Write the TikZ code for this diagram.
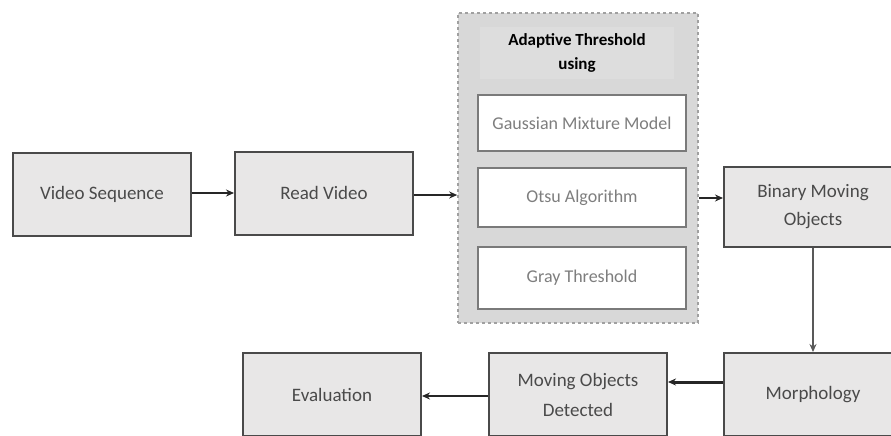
\documentclass[tikz,border=0pt]{standalone}
\usepackage{fontspec}
\setmainfont{Carlito}
\usetikzlibrary{arrows.meta}
\definecolor{boxfill}{HTML}{E8E7E7}
\definecolor{boxline}{HTML}{4A4A4A}
\definecolor{boxtext}{HTML}{4A4A4A}
\definecolor{grpfill}{HTML}{D8D8D8}
\definecolor{grpline}{HTML}{A0A0A0}
\definecolor{subline}{HTML}{7A7A7A}
\definecolor{subtext}{HTML}{7E7E7E}
\definecolor{hdrfill}{HTML}{DDDDDD}

\begin{document}
\begin{tikzpicture}[x=1pt,y=-1pt]
\tikzstyle{stage}=[draw=boxline,line width=2pt,fill=boxfill,text=boxtext,align=center,inner sep=0pt,minimum width=178pt,minimum height=83pt,font=\fontsize{19}{28.5}\selectfont]
\tikzstyle{sub}=[draw=subline,line width=1.6pt,fill=white,text=subtext,inner sep=0pt,minimum width=208pt,font=\fontsize{18}{21}\selectfont]
\tikzstyle{arr}=[draw=black!85,line width=2pt,-{Stealth[length=8pt,width=7pt]}]
\useasboundingbox (0,0) rectangle (891,436);
\clip (0,0) rectangle (891,436);
\fill[white] (0,0) rectangle (891,436);
\node[stage] (vs) at (102,194) {Video Sequence};
\node[stage] (rv) at (324,193) {Read Video};
\node[draw=grpline,dashed,line width=1.6pt,fill=grpfill,minimum width=240pt,minimum height=310pt,inner sep=0pt] (grp) at (578,168) {};
\node[fill=hdrfill,minimum width=194pt,minimum height=51pt,align=center,font=\bfseries\fontsize{17}{24}\selectfont,inner sep=0pt] (hdr) at (577,53) {Adaptive Threshold\\using};
\node[sub,minimum height=56pt] (gmm) at (582,123) {Gaussian Mixture Model};
\node[sub,minimum height=59pt] (otsu) at (582,197.5) {Otsu Algorithm};
\node[sub,minimum height=62pt] (gray) at (582,278) {Gray Threshold};
\node[stage,minimum height=80pt] (bmo) at (813,206.5) {Binary Moving\\Objects};
\node[stage] (morph) at (813,394.5) {Morphology};
\node[stage,font=\fontsize{19}{30}\selectfont] (mod) at (578,394.5) {Moving Objects\\Detected};
\node[stage] (eval) at (332,394.5) {Evaluation};
\draw[arr] (vs.east |- 0,193) -- (rv.west |- 0,193);
\draw[arr] (rv.east |- 0,195) -- (grp.west |- 0,195);
\draw[arr] (grp.east |- 0,198) -- (bmo.west |- 0,198);
\draw[arr,draw=black!65] (bmo) -- (morph);
\draw[arr,line width=3pt] (morph.west |- 0,382) -- (mod.east |- 0,382);
\draw[arr] (mod.west |- 0,396) -- (eval.east |- 0,396);
\end{tikzpicture}
\end{document}
